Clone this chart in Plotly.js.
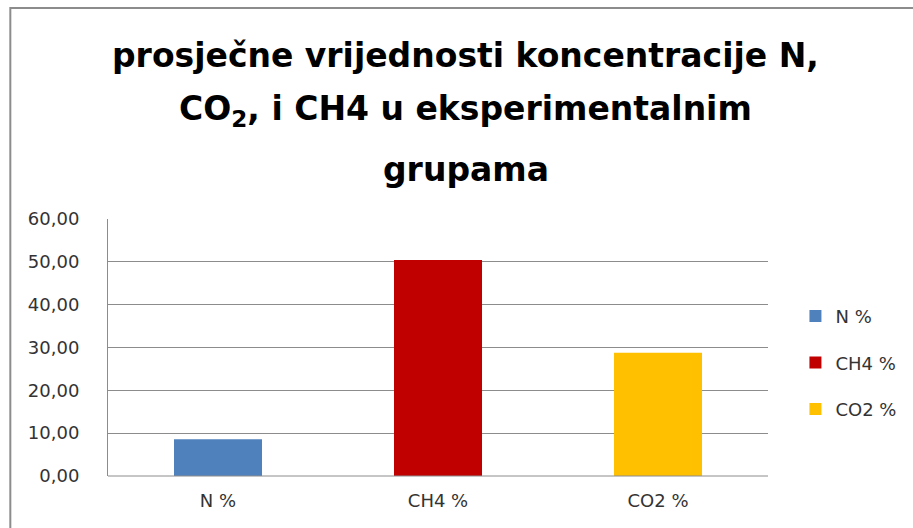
<!DOCTYPE html>
<html>
<head>
<meta charset="utf-8">
<script src="https://cdn.plot.ly/plotly-3.0.1.min.js"></script>
<style>html,body{margin:0;padding:0;background:#fff;}#chart{width:913px;height:528px;}</style>
</head>
<body>
<div id="chart"></div>
<script>
const categories = ["N %", "CH4 %", "CO2 %"];
const values = [8.6, 50.4, 28.8];
const colors = ["#4f81bd", "#c00000", "#ffc000"];
const yTicks = [0, 10, 20, 30, 40, 50, 60];
const titleLines = [
  "prosječne vrijednosti koncentracije N,",
  "CO<sub>2</sub>, i CH4 u eksperimentalnim",
  "grupama"
];

const traces = categories.map((c, i) => ({
  type: "bar",
  name: c,
  legendgroup: c,
  x: [c],
  y: [values[i]],
  marker: {color: colors[i]},
  width: 0.4,
  hoverinfo: "x+y"
}));

const titleY = [1.638, 1.424, 1.194];
const annotations = titleLines.map((t, i) => ({
  text: "<b>" + t + "</b>",
  xref: "paper", yref: "paper",
  x: 0.542, y: titleY[i],
  xanchor: "center", yanchor: "middle",
  showarrow: false,
  font: {family: "DejaVu Sans, sans-serif", size: 33, color: "#000"}
}));

const tickFont = {family: "DejaVu Sans, sans-serif", size: 18, color: "#333"};

const layout = {
  width: 913, height: 528,
  margin: {l: 108, r: 144, t: 219, b: 52},
  paper_bgcolor: "#fff", plot_bgcolor: "#fff",
  separators: ",.",
  barmode: "overlay",
  annotations: annotations,
  xaxis: {
    type: "category",
    categoryorder: "array", categoryarray: categories,
    showgrid: false, zeroline: false,
    showline: false, ticks: "",
    ticklabelstandoff: 12,
    tickfont: tickFont,
    fixedrange: true
  },
  yaxis: {
    range: [0, 60],
    tickvals: yTicks,
    tickformat: ".2f",
    showgrid: true, gridcolor: "#8c8c8c", gridwidth: 1,
    zeroline: false,
    showline: true, linecolor: "#8c8c8c", linewidth: 1,
    ticks: "",
    ticklabelstandoff: 24,
    tickfont: tickFont,
    fixedrange: true
  },
  legend: {
    x: 1.04, xanchor: "left", y: 0.44, yanchor: "middle",
    font: tickFont,
    tracegroupgap: 20, itemwidth: 30
  },
  shapes: [
    {type: "line", xref: "paper", yref: "paper", x0: 0, x1: 1, y0: 0, y1: 0, line: {color: "#8c8c8c", width: 1}},
    {type: "rect", xref: "paper", yref: "paper", x0: -0.148, x1: 2, y0: -1, y1: 1.821, line: {color: "#8c8c8c", width: 2}, layer: "below"}
  ],
  showlegend: true
};

Plotly.newPlot("chart", traces, layout, {displayModeBar: false, staticPlot: true});
</script>
</body>
</html>
